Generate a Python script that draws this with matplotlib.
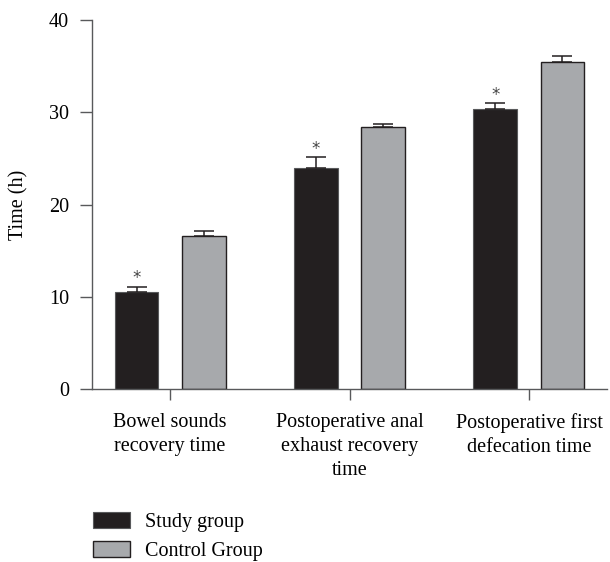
import numpy as np
import matplotlib
matplotlib.use('Agg')
import matplotlib.pyplot as plt
from matplotlib.patches import Patch

# datos
categorias = ['Bowel sounds\nrecovery time',
              'Postoperative anal\nexhaust recovery\ntime',
              'Postoperative first\ndefecation time']
study = [10.5, 24.0, 30.3]
study_err = [0.6, 1.1, 0.7]
control = [16.6, 28.4, 35.4]
control_err = [0.5, 0.3, 0.7]
ticks_y = [0, 10, 20, 30, 40]

plt.rcParams['font.family'] = ['Liberation Serif', 'DejaVu Serif']

color_study = '#231f20'
color_control = '#a7a9ac'
color_axis = '#58595b'
font_size = 14.5

fig = plt.figure(figsize=(6.1, 5.62), dpi=100)
ax = fig.add_axes([92 / 610, 1 - 389 / 562, 515 / 610, 369 / 562])

x = np.arange(len(categorias))
offset = 0.187
width = 0.245

ax.bar(x - offset, study, width, color=color_study, edgecolor='#58595b', linewidth=0.8,
       yerr=[np.zeros(3), study_err], capsize=7.5,
       error_kw=dict(ecolor=color_study, elinewidth=1.1, capthick=1.1), zorder=2)
ax.bar(x + offset, control, width, color=color_control, edgecolor=color_study, linewidth=1.0,
       yerr=[np.zeros(3), control_err], capsize=7.5,
       error_kw=dict(ecolor=color_study, elinewidth=1.1, capthick=1.1), zorder=2)

# asteriscos encima de cada barra del grupo de estudio
for i, (v, e) in enumerate(zip(study, study_err)):
    ax.text(i - offset, v + e + 0.9, '*', ha='center', va='center',
            fontsize=12, color='#444444', family='DejaVu Sans')

ax.set_xlim(-0.435, 2.435)
ax.set_ylim(0, 40)
ax.set_yticks(ticks_y)
ax.set_xticks(x)
ax.set_xticklabels(categorias, fontsize=font_size, linespacing=1.38)
ax.tick_params(axis='y', length=8.6, width=1.0, color=color_axis, pad=8, labelsize=font_size)
ax.tick_params(axis='x', length=8, width=1.0, color=color_axis, pad=9)

for s in ['top', 'right']:
    ax.spines[s].set_visible(False)
for s in ['left', 'bottom']:
    ax.spines[s].set_color(color_axis)
    ax.spines[s].set_linewidth(1.0)

ax.set_ylabel('Time (h)', fontsize=font_size)
ax.yaxis.set_label_coords(-0.124, 0.5)

handles = [Patch(facecolor=color_study, edgecolor='#58595b', linewidth=0.8, label='Study group'),
           Patch(facecolor=color_control, edgecolor=color_study, linewidth=1.0, label='Control Group')]
fig.legend(handles=handles, loc='upper left', bbox_to_anchor=(87 / 610, 1 - 506 / 562),
           frameon=False, fontsize=font_size, handlelength=1.85, handleheight=0.85,
           handletextpad=0.75, labelspacing=0.42, borderaxespad=0, borderpad=0.3)

plt.savefig('out.png', dpi=100)
